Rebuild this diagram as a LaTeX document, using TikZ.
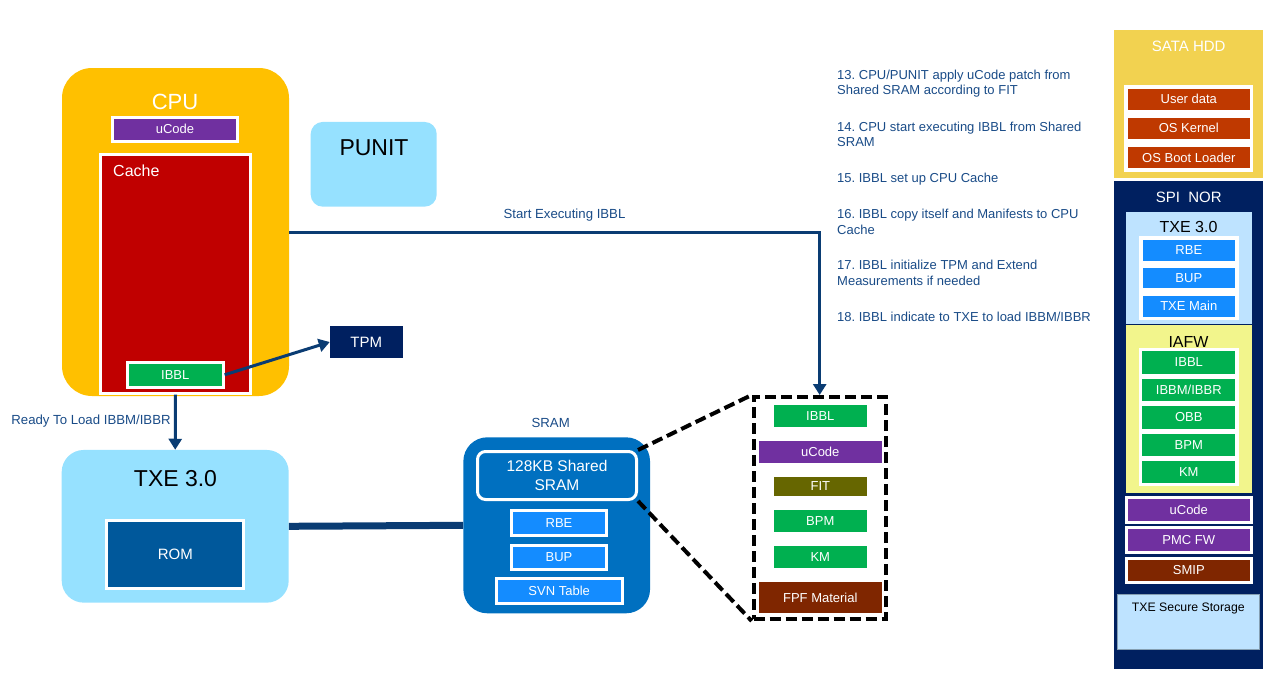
\documentclass[tikz,border=0pt]{standalone}
\usepackage{fontspec}
\setmainfont{Liberation Sans}
\usetikzlibrary{arrows.meta}
\definecolor{cpuorange}{RGB}{255,192,0}
\definecolor{cachered}{RGB}{192,0,0}
\definecolor{upurple}{RGB}{112,48,160}
\definecolor{igreen}{RGB}{0,176,80}
\definecolor{lblue}{RGB}{150,225,255}
\definecolor{tpmnavy}{RGB}{0,32,96}
\definecolor{romblue}{RGB}{0,88,155}
\definecolor{sramblue}{RGB}{0,112,192}
\definecolor{itemblue}{RGB}{20,140,255}
\definecolor{fitolive}{RGB}{102,102,0}
\definecolor{fpfbrown}{RGB}{127,38,0}
\definecolor{sataY}{RGB}{242,210,80}
\definecolor{satared}{RGB}{191,57,0}
\definecolor{txelb}{RGB}{190,227,255}
\definecolor{iafwY}{RGB}{242,245,140}
\definecolor{linecol}{RGB}{10,60,115}
\definecolor{notecol}{RGB}{25,75,135}
\newcommand\fsz[1]{\fontsize{#1}{#1}\selectfont}
\frenchspacing
\begin{document}
\frenchspacing
\begin{tikzpicture}[x=1pt,y=-1pt,
  wb/.style={draw=white, line width=3pt, inner sep=0pt, text=white, font=\fsz{13}},
  plain/.style={inner sep=0pt, text=white, font=\fsz{13}},
  blk/.style={inner sep=0pt},
  conn/.style={draw=linecol, line width=3pt},
  tip/.style={-{Triangle[width=13pt,length=11pt]}},
  lbl/.style={text=notecol, font=\fsz{13.2}, inner sep=0pt},
  note/.style={text=notecol, font=\fontsize{13}{15.4}\selectfont, inner sep=0pt, anchor=north west, align=left},
  dsh/.style={draw=black, line width=4pt, dash pattern=on 11pt off 5pt}]
\path[use as bounding box] (0,0) rectangle (1270,678);

% CPU
\node[blk, fill=cpuorange, rounded corners=30pt, minimum width=227pt, minimum height=328pt] (cpu) at (175.5,232) {};
\node[blk, text=white, font=\fsz{22}] (cpul) at (175,101.5) {CPU};
\node[wb, fill=upurple, minimum width=125pt, minimum height=24.3pt] (cucode) at (175,129.3) {uCode};
\node[wb, fill=cachered, minimum width=150.7pt, minimum height=238.7pt] (cache) at (175.5,273.8) {};
\node[blk, text=white, font=\fsz{16}, anchor=west] (cachel) at (113,170.7) {Cache};
\node[wb, fill=igreen, minimum width=95.7pt, minimum height=24.7pt] (cibbl) at (175.3,374.8) {IBBL};

% PUNIT
\node[blk, fill=lblue, rounded corners=12pt, minimum width=126pt, minimum height=84.7pt] (punit) at (373.7,164.3) {};
\node[blk, font=\fsz{23}] (punitl) at (374,147.7) {PUNIT};

% TPM
\node[blk, fill=tpmnavy, text=white, font=\fsz{15}, minimum width=72.7pt, minimum height=32.7pt] (tpm) at (366.3,342) {TPM};

% TXE
\node[blk, fill=lblue, rounded corners=22pt, minimum width=227pt, minimum height=152.7pt] (txe) at (175.2,526.3) {};
\node[blk, font=\fsz{23}] (txel) at (175.5,479) {TXE 3.0};
\node[wb, fill=romblue, font=\fsz{15}, minimum width=137pt, minimum height=67.7pt] (rom) at (175.3,554.7) {ROM};

% SRAM
\node[blk, fill=sramblue, rounded corners=24pt, minimum width=186.7pt, minimum height=176pt] (sram) at (556.7,525.3) {};
\node[lbl] (sraml) at (550.7,422.7) {SRAM};
\node[draw=white, line width=3pt, rounded corners=8pt, fill=sramblue, text=white, font=\fontsize{15.5}{19}\selectfont, align=center, minimum width=159pt, minimum height=48pt, inner sep=0pt] (shared) at (557,475.5) {128KB Shared\\SRAM};
\node[wb, fill=itemblue, minimum width=95.7pt, minimum height=25pt] (srbe) at (559,523.3) {RBE};
\node[wb, fill=itemblue, minimum width=95.7pt, minimum height=24.7pt] (sbup) at (559,557.5) {BUP};
\node[wb, fill=itemblue, minimum width=126pt, minimum height=24.7pt] (ssvn) at (559.2,590.8) {SVN Table};

% dashed detail box
\node[dsh, blk, minimum width=132pt, minimum height=222pt] (dbox) at (819.7,508) {};
\draw[dsh] (shared.north east) -- (dbox.north west);
\draw[dsh] (shared.south east) -- (dbox.south west);
\node[plain, fill=igreen, minimum width=92.7pt, minimum height=21.7pt] (dibbl) at (820.3,415.8) {IBBL};
\node[plain, fill=upurple, minimum width=122.7pt, minimum height=21.7pt] (ducode) at (820.3,451.8) {uCode};
\node[plain, fill=fitolive, minimum width=92.7pt, minimum height=18.3pt] (dfit) at (820.3,486.5) {FIT};
\node[plain, fill=igreen, minimum width=92.7pt, minimum height=21.7pt] (dbpm) at (820.3,520.8) {BPM};
\node[plain, fill=igreen, minimum width=92.7pt, minimum height=21.7pt] (dkm) at (820.3,556.8) {KM};
\node[plain, fill=fpfbrown, minimum width=122.7pt, minimum height=31pt] (dfpf) at (820.3,597.8) {FPF Material};

% connectors
\draw[conn, tip] (cpu.east) -| (dbox.north);
\node[lbl] (startl) at (564.5,215.5) {Start Executing IBBL};
\draw[conn, tip] (cache.south) -- (txe.north);
\node[lbl] (readyl) at (91,420.7) {Ready To Load IBBM/IBBR};
\draw[conn, tip] (cibbl.east) -- (tpm.west);
\draw[draw=linecol, line width=7pt] (txe.east) -- (sram.west);

% notes
\node[note] (n13) at (837,69.7) {13. CPU/PUNIT apply uCode patch from\\Shared SRAM according to FIT};
\node[note] (n14) at (837,121.7) {14. CPU start executing IBBL from Shared\\SRAM};
\node[note] (n15) at (837,173.3) {15. IBBL set up CPU Cache};
\node[note] (n16) at (837,209.3) {16. IBBL copy itself and Manifests to CPU\\Cache};
\node[note] (n17) at (837,260) {17. IBBL initialize TPM and Extend\\Measurements if needed};
\node[note] (n18) at (837,312.3) {18. IBBL indicate to TXE to load IBBM/IBBR};

% SATA HDD
\node[blk, fill=sataY, minimum width=149.3pt, minimum height=148.3pt] (sata) at (1188.7,103.8) {};
\node[blk, text=white, font=\fsz{15}] (satal) at (1188.7,46.7) {SATA HDD};
\fill[white] (1124,85) rectangle (1253,172);
\node[wb, fill=satared, minimum width=125.3pt, minimum height=24.3pt] (user) at (1188.8,99.3) {User data};
\node[wb, fill=satared, minimum width=125.3pt, minimum height=24.3pt] (kern) at (1188.8,128.3) {OS Kernel};
\node[wb, fill=satared, minimum width=125.3pt, minimum height=24.7pt] (boot) at (1188.8,157.5) {OS Boot Loader};

% SPI NOR
\node[blk, fill=tpmnavy, minimum width=149.3pt, minimum height=488pt] (spi) at (1188.7,425) {};
\node[blk, text=white, font=\fsz{15}] (spil) at (1188.7,197.7) {SPI\ \ NOR};
\node[blk, fill=txelb, draw=tpmnavy, line width=0.7pt, minimum width=127pt, minimum height=113pt] (rtxe) at (1188.5,267.5) {};
\node[blk, font=\fsz{16}] (rtxel) at (1188.5,227.3) {TXE 3.0};
\fill[white] (1139,236) rectangle (1239,320);
\node[wb, fill=itemblue, minimum width=95.3pt, minimum height=23.7pt] (rrbe) at (1188.8,250.3) {RBE};
\node[wb, fill=itemblue, minimum width=95.3pt, minimum height=23.3pt] (rbup) at (1188.8,278.2) {BUP};
\node[wb, fill=itemblue, minimum width=95.3pt, minimum height=23.7pt] (rmain) at (1188.8,306.3) {TXE Main};
\node[blk, fill=iafwY, draw=tpmnavy, line width=0.7pt, minimum width=127pt, minimum height=169pt] (iafw) at (1188.5,408.5) {};
\node[blk, font=\fsz{16}] (iafwl) at (1188.5,341.5) {IAFW};
\fill[white] (1139,348.3) rectangle (1239,485.7);
\node[wb, fill=igreen, minimum width=96.3pt, minimum height=26.3pt] (ribbl) at (1188.8,362.3) {IBBL};
\node[wb, fill=igreen, minimum width=96.3pt, minimum height=25pt] (ribbm) at (1188.8,390) {IBBM/IBBR};
\node[wb, fill=igreen, minimum width=96.3pt, minimum height=25.3pt] (robb) at (1188.8,417.5) {OBB};
\node[wb, fill=igreen, minimum width=96.3pt, minimum height=25pt] (rbpm) at (1188.8,445) {BPM};
\node[wb, fill=igreen, minimum width=96.3pt, minimum height=25pt] (rkm) at (1188.8,471.7) {KM};
\node[wb, fill=upurple, minimum width=125.3pt, minimum height=24.7pt] (rucode) at (1188.8,510.2) {uCode};
\node[wb, fill=upurple, minimum width=125.3pt, minimum height=24.7pt] (rpmc) at (1188.8,540.2) {PMC FW};
\node[wb, fill=fpfbrown, minimum width=125.3pt, minimum height=24pt] (rsmip) at (1188.8,570.5) {SMIP};
\node[blk, fill=txelb, draw=txelb!70!black, line width=0.6pt, minimum width=142pt, minimum height=55pt] (rsec) at (1188.3,621.8) {};
\node[blk, font=\fsz{12.3}] (rsecl) at (1188.3,608.3) {TXE Secure Storage};
\end{tikzpicture}
\end{document}
